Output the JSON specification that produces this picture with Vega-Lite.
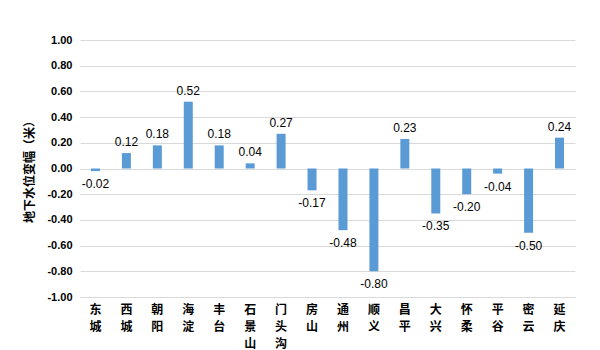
{
  "$schema": "https://vega.github.io/schema/vega-lite/v6.json",
  "width": 495,
  "height": 257,
  "autosize": {"type": "none"},
  "padding": {"left": 80, "top": 40, "right": 25, "bottom": 53},
  "background": "white",
  "config": {"view": {"stroke": null}, "font": "Liberation Sans"},
  "data": {
    "values": [
      {"d": "东城", "v": -0.02},
      {"d": "西城", "v": 0.12},
      {"d": "朝阳", "v": 0.18},
      {"d": "海淀", "v": 0.52},
      {"d": "丰台", "v": 0.18},
      {"d": "石景山", "v": 0.04},
      {"d": "门头沟", "v": 0.27},
      {"d": "房山", "v": -0.17},
      {"d": "通州", "v": -0.48},
      {"d": "顺义", "v": -0.80},
      {"d": "昌平", "v": 0.23},
      {"d": "大兴", "v": -0.35},
      {"d": "怀柔", "v": -0.20},
      {"d": "平谷", "v": -0.04},
      {"d": "密云", "v": -0.50},
      {"d": "延庆", "v": 0.24}
    ]
  },
  "transform": [{"calculate": "replace(format(datum.v, '.2f'), '\u2212', '-')", "as": "lbl"}],
  "encoding": {
    "x": {
      "field": "d", "type": "nominal", "sort": null,
      "scale": {"paddingInner": 0.7, "paddingOuter": 0.35},
      "axis": {
        "title": null, "domain": false, "ticks": false, "labelAngle": 0,
        "labelExpr": "split(datum.label, '')",
        "labelFont": "Noto Sans CJK SC", "labelFontWeight": "bold", "labelFontSize": 12,
        "labelLineHeight": 17, "labelColor": "#000000", "labelPadding": 7, "labelBaseline": "top"
      }
    },
    "y": {
      "field": "v", "type": "quantitative",
      "scale": {"domain": [-1, 1], "nice": false},
      "axis": {
        "values": [-1, -0.8, -0.6, -0.4, -0.2, 0, 0.2, 0.4, 0.6, 0.8, 1],
        "format": ".2f", "labelExpr": "replace(datum.label, '\u2212', '-')",
        "domain": false, "ticks": false,
        "gridColor": "#d9d9d9", "gridWidth": 1,
        "labelFont": "Liberation Sans", "labelFontWeight": "bold", "labelFontSize": 11, "labelColor": "#000000",
        "labelPadding": 8,
        "title": "地下水位变幅（米）", "titleFont": "Noto Sans CJK SC", "titleFontSize": 12,
        "titleFontWeight": "bold", "titleColor": "#000000", "titlePadding": 10
      }
    }
  },
  "layer": [
    {"mark": {"type": "bar", "color": "#5b9bd5", "size": 9}},
    {
      "transform": [{"filter": "datum.v >= 0"}],
      "mark": {"type": "text", "baseline": "bottom", "dy": -4, "fontSize": 12, "color": "#000000", "font": "Liberation Sans"},
      "encoding": {"text": {"field": "lbl"}}
    },
    {
      "transform": [{"filter": "datum.v < 0"}],
      "mark": {"type": "text", "baseline": "top", "dy": 8, "fontSize": 12, "color": "#000000", "font": "Liberation Sans"},
      "encoding": {"text": {"field": "lbl"}}
    }
  ]
}
